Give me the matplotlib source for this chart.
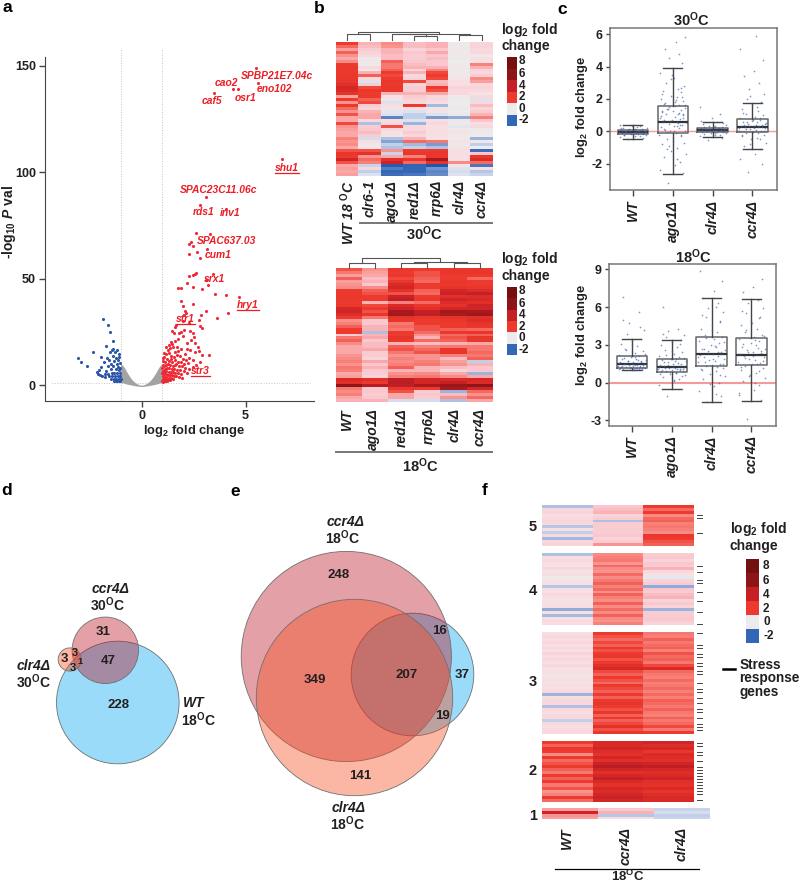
import matplotlib
matplotlib.use('Agg')
import matplotlib.pyplot as plt
import numpy as np
from matplotlib.colors import LinearSegmentedColormap, Normalize
from matplotlib.patches import Circle

W, H = 800, 886
plt.rcParams['font.family'] = ['Liberation Sans', 'DejaVu Sans']
plt.rcParams['font.weight'] = 'bold'
plt.rcParams['axes.unicode_minus'] = False
plt.rcParams['mathtext.fontset'] = 'custom'
plt.rcParams['mathtext.rm'] = 'Liberation Sans:bold'
plt.rcParams['mathtext.it'] = 'Liberation Sans:italic:bold'
plt.rcParams['mathtext.bf'] = 'Liberation Sans:bold'
plt.rcParams['mathtext.default'] = 'rm'

INK = '#231f20'
LOG2FC = r'log$_2$ fold change'
T18 = r'18$^{\mathrm{O}}$C'
T30 = r'30$^{\mathrm{O}}$C'

# panel a, volcano
grey_x = [-1.0, -0.9, -0.8, -0.7, -0.6, -0.5, -0.4, -0.3, -0.2, -0.1, 0.0, 0.1, 0.2, 0.3, 0.4, 0.5, 0.6, 0.7, 0.8, 0.9, 1.0]
grey_hi = [10.2, 9.4, 8.0, 6.2, 4.6, 3.2, 2.1, 1.3, 0.7, 0.3, 0.1, 0.3, 0.7, 1.3, 2.1, 3.2, 4.6, 6.2, 8.0, 9.4, 10.2]
grey_lo = [1.5, 1.2, 0.9, 0.6, 0.4, 0.2, 0.0, -0.2, -0.3, -0.4, -0.5, -0.4, -0.3, -0.2, 0.0, 0.2, 0.4, 0.6, 0.9, 1.2, 1.5]
blue_pts = [(-1.84, 31.3), (-1.59, 28.4), (-1.51, 25.0), (-1.36, 20.8), (-1.71, 18.6), (-2.32, 15.9), (-1.43, 16.4),
            (-1.36, 17.0), (-1.2, 16.7), (-1.52, 15.5), (-1.28, 15.5), (-1.08, 14.8), (-1.94, 13.3), (-1.65, 12.8),
            (-3.03, 12.8), (-2.93, 11.2), (-2.6, 8.9), (-2.16, 6.1), (-1.95, 8.7), (-1.8, 11.0), (-1.55, 11.8),
            (-1.38, 13.6), (-1.25, 13.0), (-1.12, 12.0), (-1.3, 11.3), (-1.45, 10.2), (-1.2, 10.0), (-1.05, 10.6),
            (-1.62, 9.2), (-1.35, 8.9), (-1.15, 8.8), (-1.03, 8.3), (-1.48, 7.6), (-1.25, 7.5), (-1.1, 7.2),
            (-1.7, 6.6), (-2.1, 5.4), (-2.0, 5.0), (-1.88, 4.6), (-1.78, 5.5), (-1.6, 5.3), (-1.42, 6.0),
            (-1.3, 5.8), (-1.18, 5.9), (-1.05, 5.6), (-1.55, 4.2), (-1.4, 4.5), (-1.28, 4.2), (-1.15, 4.4),
            (-1.02, 4.2), (-1.45, 3.2), (-1.33, 3.0), (-1.22, 3.1), (-1.1, 3.2), (-1.0, 3.0), (-1.3, 2.3),
            (-1.18, 2.2), (-1.07, 2.3), (-1.02, 1.9), (-1.25, 1.9), (-2.05, 7.4), (-1.74, 3.9), (-1.09, 13.5)]
red_pts = [(5.5, 149), (5.6, 142), (4.4, 139), (4.63, 139), (3.48, 137), (6.76, 106), (3.08, 88.4), (2.8, 84.4),
           (4.05, 82.8), (2.6, 71.7), (3.3, 70.8), (2.4, 67.3), (2.28, 66.3), (2.45, 65.5), (3.16, 63.8), (2.26, 61.6),
           (2.68, 62.5), (2.8, 59.7), (2.26, 51.4), (2.45, 51.6), (2.56, 52.2), (2.64, 52.8), (3.45, 52.3), (3.2, 46.9),
           (3.1, 49.5), (2.2, 47.8), (2.48, 46.0), (1.76, 45.5), (1.88, 45.5), (2.93, 45.3), (3.53, 42.8), (4.04, 42.2),
           (4.7, 41.3), (1.92, 39.4), (1.97, 37.3), (2.48, 38.4), (4.18, 33.9), (3.08, 35.0), (2.1, 35.0), (2.16, 33.9),
           (2.03, 33.1), (2.88, 32.8), (3.64, 31.4), (2.77, 30.5), (2.8, 28.0), (2.93, 26.9), (1.65, 28.5), (1.62, 27.2),
           (2.0, 30.0), (2.3, 29.5), (1.8, 24.8), (1.45, 25.5), (1.55, 24.8), (1.9, 25.2), (2.05, 25.8), (2.35, 25.6),
           (2.45, 24.5), (2.5, 22.8), (2.0, 23.4), (1.75, 22.0), (1.6, 21.0), (2.4, 21.5), (2.55, 20.0), (2.2, 20.0),
           (1.4, 20.2), (1.3, 18.9), (1.48, 19.3), (1.2, 18.0), (1.36, 17.5), (1.5, 17.8), (1.72, 18.2), (1.9, 17.3),
           (2.2, 17.0), (2.35, 16.7), (2.7, 17.8), (2.78, 16.2), (3.25, 14.4), (2.9, 14.2), (2.55, 15.6), (2.1, 14.8),
           (1.02, 12.8), (1.1, 13.4), (1.18, 14.6), (1.3, 15.2), (1.42, 14.0), (1.55, 13.3), (1.7, 14.4), (1.85, 13.6),
           (2.0, 12.5), (2.15, 11.8), (2.3, 13.0), (2.45, 12.0), (1.05, 11.6), (1.12, 11.0), (1.22, 12.3), (1.33, 11.6),
           (1.48, 11.0), (1.6, 12.0), (1.75, 10.8), (1.9, 10.8), (2.05, 10.2), (2.25, 10.5), (1.02, 9.8), (1.08, 9.2),
           (1.18, 9.8), (1.28, 10.2), (1.38, 9.4), (1.5, 9.0), (1.62, 9.6), (1.8, 8.9), (1.95, 9.2), (2.1, 8.4),
           (1.0, 8.4), (1.12, 7.9), (1.22, 8.4), (1.33, 8.0), (1.45, 7.6), (1.57, 7.8), (1.7, 7.4), (1.85, 7.2),
           (2.02, 6.8), (2.3, 7.5), (1.03, 7.0), (1.1, 6.6), (1.2, 6.9), (1.3, 6.4), (1.42, 6.1), (1.52, 6.5),
           (1.63, 5.8), (1.75, 5.6), (1.9, 5.5), (2.2, 5.8), (1.0, 5.6), (1.07, 5.2), (1.16, 5.5), (1.26, 5.0),
           (1.36, 4.8), (1.47, 4.9), (1.58, 4.3), (1.68, 4.4), (1.82, 4.0), (1.02, 4.2), (1.1, 3.9), (1.2, 4.0),
           (1.3, 3.6), (1.42, 3.4), (1.52, 3.2), (1.01, 3.1), (1.08, 2.8), (1.17, 2.9), (1.26, 2.5), (1.35, 2.4),
           (1.0, 2.2), (1.06, 2.0), (1.14, 2.1), (1.22, 1.9), (1.02, 1.6), (1.6, 15.8), (1.25, 16.4), (1.08, 15.2),
           (2.6, 9.6), (2.8, 11.0), (1.95, 3.6), (2.45, 8.6), (1.75, 16.0), (1.15, 6.0), (1.4, 12.6), (1.65, 10.2)]
gene_names = ['SPBP21E7.04c', 'cao2', 'eno102', 'osr1', 'caf5', 'shu1', 'SPAC23C11.06c', 'rds1', 'inv1',
              'SPAC637.03', 'cum1', 'srx1', 'hry1', 'str1', 'str3']
gene_x = [277.3, 226, 274.3, 245.3, 212, 287.3, 218.3, 203.3, 230, 226.7, 217.7, 215, 247.7, 185.3, 200.3]
gene_y = [76.3, 83.3, 89.3, 98, 100.7, 167.7, 190.3, 212, 213.3, 241.3, 255.3, 278.7, 304.7, 319.3, 370.7]
underlined = ['shu1', 'hry1', 'str1', 'str3']

# panel b, heatmaps
cols_30 = ['WT 18 $^{\\mathrm{O}}$C', 'clr6-1', 'ago1Δ', 'red1Δ', 'rrp6Δ', 'clr4Δ', 'ccr4Δ']
heat_30 = [
    [2.0, 0.9, 1.3, 0.8, 0.9, 0.1, 0.5], [1.6, 0.8, 1.2, 0.8, 0.9, 0.1, 0.5], [1.1, 0.6, 0.9, 0.5, 0.7, 0.1, 0.4],
    [1.7, 0.5, 0.9, 0.7, 1.0, 0.1, 0.4], [1.2, 0.4, 0.8, 0.6, 0.7, 0.1, 0.1], [1.0, 0.1, 0.8, 0.6, 0.8, 0.1, 0.3],
    [1.3, 0.1, 1.7, 0.7, 0.7, 0.0, 0.3], [2.0, 0.1, 1.5, 0.8, 0.7, 0.1, 1.4], [2.1, 0.4, 1.5, 0.9, 0.9, 0.1, 0.9],
    [2.1, 0.1, 1.7, 0.5, 1.4, 0.1, 0.5], [2.1, 0.9, 2.0, 0.9, 1.9, 0.1, 0.4], [2.2, 1.7, 1.9, 0.4, 2.0, 0.1, 0.6],
    [2.2, 0.4, 2.0, 0.5, 1.9, 0.2, 1.3], [2.3, -0.3, 2.2, 1.9, 0.8, 0.3, 1.1], [2.6, 0.6, 2.1, 0.5, 0.9, 0.3, 0.4],
    [3.2, 1.9, 2.2, 0.6, 2.0, 0.5, 0.5], [3.0, 2.2, 2.2, 0.6, 1.8, 0.4, 0.4], [2.4, 2.0, 0.9, 0.9, 1.0, 0.4, 0.2],
    [1.1, 2.1, 0.3, 0.6, 0.4, 0.1, 0.4], [2.0, 1.7, 0.2, 0.5, 0.4, 0.1, -0.3], [1.2, 1.9, -0.3, 0.4, 0.3, 0.0, 0.4],
    [2.1, 0.6, 0.3, 2.0, -0.9, 0.0, 0.8], [1.6, 0.5, 0.2, 0.3, 0.2, 0.1, 0.5], [1.2, 0.9, -0.2, -0.3, 0.2, 0.0, 0.6],
    [1.8, 1.0, -0.3, -0.6, -0.3, 0.1, 0.9], [1.0, 1.0, -1.6, -0.6, -1.3, -1.1, 1.4], [1.0, 0.4, 0.3, -0.3, 0.3, 0.1, 0.7],
    [1.9, -0.8, 0.4, -1.0, 0.4, 0.1, 0.3], [1.2, 0.6, 1.8, 0.4, 0.3, -0.2, 0.4], [1.1, 0.7, 0.4, 0.4, 0.3, 0.1, 0.1],
    [1.0, 0.8, 0.2, 0.6, 0.3, 0.2, 0.1], [1.0, 0.6, 0.2, 0.4, 0.3, 0.1, 0.0], [1.4, -0.4, -0.8, 0.9, 0.2, 0.1, -1.0],
    [1.2, 0.3, -1.2, 1.6, 1.5, 0.2, 0.1], [1.3, 0.1, -0.6, -0.9, -1.3, 0.1, -0.6],
    [1.0, 0.2, -0.8, -0.6, -0.8, 0.2, 0.0], [1.8, 1.8, 1.2, 2.0, 2.1, 0.3, -1.9], [2.3, 2.5, -0.5, 2.2, 2.3, 0.3, 0.7],
    [2.1, 1.2, 1.0, 1.4, 2.2, 0.3, 2.2], [3.5, 1.6, 2.6, 2.2, 5.0, 0.3, 2.8], [1.8, 1.4, 3.6, 1.6, 2.4, 1.3, 1.6],
    [1.0, -0.5, -2.1, -2.0, -2.2, 0.2, -1.8], [1.1, 0.4, -1.7, -2.0, -1.4, -0.3, 0.3], [1.0, -0.6, -2.0, -2.0, -1.6, -0.4, -0.7],
    [1.1, -0.3, -1.9, -1.8, -1.5, -0.3, -0.5],
]
cols_18 = ['WT', 'ago1Δ', 'red1Δ', 'rrp6Δ', 'clr4Δ', 'ccr4Δ']
heat_18 = [
    [1.8, 1.2, 2.2, 2.0, 2.3, 2.2], [1.5, 1.1, 2.0, 1.8, 2.3, 2.3], [1.1, 1.0, 2.2, 1.8, 2.0, 2.1],
    [1.7, 0.8, 1.9, 1.7, 2.0, 1.6], [1.1, 0.9, 2.3, 1.6, 2.2, 2.0], [1.2, 0.7, 3.0, 2.0, 2.1, 2.0],
    [1.3, 1.3, 3.4, 2.0, 2.4, 2.3], [2.0, 1.7, 2.5, 1.7, 3.4, 2.8], [2.1, 1.8, 1.8, 1.6, 3.8, 4.0],
    [2.2, 2.0, 3.8, 2.1, 2.6, 2.8], [2.1, 2.0, 4.2, 2.2, 3.5, 3.0], [2.1, 0.9, 1.4, 1.6, 2.8, 2.7],
    [2.1, 1.9, 2.9, 2.2, 2.5, 3.6], [3.2, 2.1, 3.6, 2.6, 3.3, 3.4], [3.5, 1.8, 5.0, 4.0, 5.2, 5.0],
    [2.8, 2.2, 5.2, 4.2, 5.0, 5.4], [2.0, 1.5, 2.4, 2.2, 2.5, 2.6], [1.2, 0.7, 2.3, 2.0, 2.2, 2.8],
    [1.4, 0.7, 1.5, 2.0, 2.0, 2.4], [1.7, 0.9, 1.6, 1.8, 2.0, 2.2], [2.0, 0.9, 1.5, 1.8, 1.7, 1.6],
    [2.0, -0.8, 2.0, 1.6, 2.2, 2.3], [0.6, 0.9, 2.0, 1.2, 1.6, 1.7], [1.5, 1.0, 2.4, 0.9, 1.8, 2.3],
    [1.7, 0.7, 2.2, 1.6, 1.7, 2.2], [1.3, 0.8, 0.9, 0.8, 0.9, 1.0], [1.0, 0.8, 1.7, 1.4, 1.5, 1.5],
    [1.0, 1.0, 1.8, 1.6, 2.2, 1.5], [1.0, 0.6, 1.5, 1.8, 2.2, 1.6], [1.2, 0.6, 1.2, 1.2, 1.4, 1.5],
    [1.3, 0.5, 1.4, 1.2, 0.8, 1.7], [1.4, 1.0, 1.3, 1.4, 1.1, -0.6], [1.2, 0.7, 1.4, 1.5, 1.2, 0.9],
    [1.5, 0.9, 1.7, 0.9, 0.8, 0.7], [1.4, 0.7, 0.9, 0.9, 0.5, 0.7], [1.0, 0.6, 1.2, 1.3, 1.0, -1.0],
    [1.1, 0.5, 1.4, 1.5, 1.3, 1.0], [3.0, 2.6, 4.2, 3.2, 3.0, 3.2], [2.6, 2.1, 4.4, 3.4, 4.0, 2.9],
    [6.0, 4.5, 4.2, 5.0, 5.5, 6.0], [1.5, 0.7, 2.2, 2.0, 5.0, 3.5], [1.3, 0.7, 1.8, 0.6, -1.0, 1.6],
    [1.4, 0.6, 1.0, 0.7, 0.8, 1.2], [1.0, 0.7, 1.0, 0.6, 1.2, 1.6], [0.9, 0.9, -0.4, -0.4, -0.8, 1.0],
]
# dendrograms: (left column pos, left height, right column pos, right height, join height)
tree_30 = [(0.5, 0, 1.5, 0, 5.7), (3.5, 0, 4.5, 0, 4.3), (2.5, 0, 4.0, 4.3, 5.7), (5.5, 0, 6.5, 0, 4.7),
           (3.25, 5.7, 6.0, 4.7, 6.3), (1.0, 5.7, 4.6, 6.3, 8.3)]
tree_18 = [(0.5, 0, 1.5, 0, 5.0), (2.5, 0, 3.5, 0, 4.3), (4.5, 0, 5.5, 0, 4.3), (3.0, 4.3, 5.0, 4.3, 6.0),
           (1.0, 5.0, 4.0, 6.0, 10.0)]
legend_vals = [8, 6, 4, 2, 0, -2]

# panel c, box plots
box_names = ['WT', 'ago1Δ', 'clr4Δ', 'ccr4Δ']
whislo_30 = [-0.47, -2.65, -0.37, -1.07]
q1_30 = [-0.18, -0.12, -0.04, -0.06]
med_30 = [-0.05, 0.58, 0.08, 0.29]
q3_30 = [0.08, 1.56, 0.22, 0.74]
whishi_30 = [0.39, 3.93, 0.58, 1.77]
whislo_18 = [0.98, -0.5, -1.56, -1.46]
q1_18 = [1.14, 0.82, 1.32, 1.38]
med_18 = [1.48, 1.25, 2.28, 2.23]
q3_18 = [2.09, 1.9, 3.6, 3.52]
whishi_18 = [3.5, 3.36, 6.75, 6.65]
jitter = [-0.12, 0.25, -0.31, 0.06, 0.18, -0.22, 0.33, -0.04, 0.12, -0.27, 0.28, -0.15, 0.02, 0.21, -0.34, 0.09,
          -0.07, 0.31, -0.19, 0.15, -0.29, 0.04, 0.24, -0.1, 0.35, -0.24, 0.11, -0.02, 0.19, -0.32, 0.07, 0.27,
          -0.17, 0.14, -0.26, 0.0, 0.22, -0.13, 0.3, -0.08, 0.17, -0.21, 0.05, 0.26, -0.3, 0.1, -0.05, 0.2,
          -0.25, 0.13, 0.29, -0.16, 0.03, -0.33, 0.23, -0.09, 0.16, -0.2, 0.08, 0.32,
          -0.14, 0.01, 0.2, -0.23, 0.12, -0.06, 0.26, -0.3, 0.16, -0.11, 0.05, 0.3, -0.18, 0.09, -0.28, 0.22,
          -0.03, 0.14, -0.21, 0.27, -0.09, 0.03, 0.18, -0.26, 0.1, -0.15, 0.24, -0.01, -0.32, 0.07, 0.19, -0.12]
pts_30_wt = [-0.5, -0.42, -0.35, -0.3, -0.26, -0.22, -0.2, -0.17, -0.15, -0.12, -0.1, -0.08, -0.06, -0.05, -0.03,
             -0.02, 0.0, 0.02, 0.04, 0.05, 0.07, 0.1, 0.12, 0.15, 0.18, 0.22, 0.26, 0.3, 0.35, 0.38,
             -0.13, -0.07, -0.04, 0.01, 0.03, -0.16, -0.09, 0.06, -0.01, -0.11, 0.09, -0.24, 0.14, -0.19, 0.2]
pts_30_ago = [-3.2, -2.6, -2.4, -2.1, -1.9, -1.6, -1.4, -1.2, -1.0, -0.8, -0.7, -0.5, -0.4, -0.3, -0.2, -0.1, 0.0, 0.05,
              0.1, 0.2, 0.25, 0.3, 0.4, 0.45, 0.5, 0.55, 0.6, 0.7, 0.75, 0.8, 0.9, 1.0, 1.05, 1.1, 1.2, 1.25, 1.3, 1.4,
              1.45, 1.5, 1.6, 1.7, 1.8, 1.9, 2.0, 2.1, 2.2, 2.4, 2.5, 2.6, 2.8, 3.0, 3.3, 3.6, 4.2, 4.5, 4.8, 5.1, 5.5, 5.8,
              -1.1, -0.6, -0.25, 0.15, 0.35, 0.65, 0.85, 0.95, 1.15, 1.35, 1.55, 1.65, 1.75, 1.95, 2.3, 2.7, 3.2, 0.52, 0.72,
              1.08, -0.9, 0.02, 0.42, 1.28, -1.7, -0.05, 2.15, 3.45]
pts_30_clr = [-0.55, -0.4, -0.3, -0.25, -0.2, -0.15, -0.1, -0.08, -0.05, -0.02, 0.0, 0.02, 0.04, 0.06, 0.08, 0.1,
              0.12, 0.14, 0.16, 0.18, 0.2, 0.24, 0.28, 0.32, 0.38, 0.45, 0.55, 0.8, 1.1, 1.5,
              -0.12, -0.03, 0.03, 0.05, 0.07, 0.09, 0.11, 0.13, 0.15, 0.17, 0.22, 0.26, 0.35, 0.5, 0.65]
pts_30_ccr = [-2.5, -2.0, -1.7, -1.4, -1.1, -0.9, -0.7, -0.5, -0.4, -0.3, -0.2, -0.12, -0.05, 0.0, 0.05, 0.1, 0.15, 0.2,
              0.24, 0.28, 0.32, 0.36, 0.4, 0.45, 0.5, 0.55, 0.6, 0.65, 0.7, 0.8, 0.9, 1.0, 1.1, 1.25, 1.4, 1.6, 1.8, 2.0,
              2.3, 2.6, 3.0, 3.4, 3.7, 4.4, 5.1, 5.9,
              -0.8, -0.45, -0.25, -0.08, 0.02, 0.12, 0.18, 0.22, 0.26, 0.3, 0.34, 0.38, 0.42, 0.48, 0.58, 0.72, 0.85, 1.15, 1.5, 2.2]
pts_18_wt = [1.0, 1.02, 1.05, 1.07, 1.1, 1.12, 1.15, 1.18, 1.2, 1.22, 1.25, 1.28, 1.3, 1.33, 1.36, 1.4, 1.43, 1.46, 1.5,
             1.55, 1.6, 1.65, 1.7, 1.75, 1.8, 1.85, 1.9, 2.0, 2.1, 2.2, 2.35, 2.5, 2.7, 2.9, 3.1, 3.3, 3.5, 3.9, 4.2,
             4.7, 5.6, 6.8,
             1.03, 1.08, 1.13, 1.17, 1.23, 1.27, 1.32, 1.38, 1.42, 1.48, 1.52, 1.58, 1.62, 1.72, 1.82, 1.95, 2.05, 2.3, 2.6, 3.0, 4.4, 5.0]
pts_18_ago = [-1.1, -0.5, -0.2, 0.1, 0.3, 0.45, 0.6, 0.7, 0.8, 0.85, 0.9, 0.95, 1.0, 1.05, 1.1, 1.15, 1.2, 1.25, 1.3, 1.35,
              1.4, 1.45, 1.5, 1.6, 1.7, 1.8, 1.85, 1.9, 2.0, 2.1, 2.25, 2.4, 2.6, 2.8, 3.0, 3.2, 3.4, 3.6, 3.8, 4.1, 4.3, 6.0,
              0.2, 0.5, 0.65, 0.75, 0.88, 0.98, 1.02, 1.08, 1.12, 1.18, 1.22, 1.28, 1.33, 1.38, 1.55, 1.65, 1.75, 1.95, 2.2, 2.5, 3.1, 3.9]
pts_18_clr = [-1.5, -1.1, -0.7, -0.3, 0.0, 0.3, 0.5, 0.7, 0.9, 1.05, 1.2, 1.3, 1.4, 1.5, 1.6, 1.7, 1.8, 1.9, 2.0, 2.1, 2.2,
              2.3, 2.4, 2.5, 2.6, 2.7, 2.85, 3.0, 3.15, 3.3, 3.45, 3.6, 3.8, 4.0, 4.3, 4.6, 4.9, 5.2, 5.6, 5.9, 6.3, 6.7,
              7.3, 8.1, 8.9,
              -0.9, -0.1, 0.6, 1.0, 1.25, 1.45, 1.65, 1.85, 2.05, 2.25, 2.35, 2.45, 2.65, 2.95, 3.25, 3.55, 4.2, 4.8, 5.4, 6.0]
pts_18_ccr = [-2.9, -1.4, -1.0, -0.6, -0.2, 0.1, 0.4, 0.6, 0.8, 1.0, 1.2, 1.35, 1.45, 1.55, 1.65, 1.8, 1.9, 2.0, 2.1, 2.2, 2.3,
              2.4, 2.5, 2.6, 2.7, 2.8, 3.0, 3.15, 3.3, 3.45, 3.6, 3.8, 4.0, 4.3, 4.6, 4.9, 5.2, 5.5, 5.9, 6.3, 6.6, 7.2,
              7.6, 8.2,
              -0.8, 0.0, 0.5, 0.9, 1.25, 1.5, 1.7, 1.95, 2.15, 2.25, 2.35, 2.45, 2.75, 3.1, 3.4, 3.7, 4.15, 4.7, 5.1, 5.7]

# panels d and e, venn counts
d_only_ccr, d_ccr_wt, d_wt_only = 31, 47, 228
d_clr_only, d_clr_ccr, d_clr_wt, d_all = 3, 3, 3, 1
e_ccr_only, e_ccr_clr, e_all, e_ccr_wt = 248, 349, 207, 16
e_clr_only, e_clr_wt, e_wt_only = 141, 19, 37

# panel f, clustered heatmap; cluster rows plus which rows are stress genes
f_cols = ['WT', 'ccr4Δ', 'clr4Δ']
f5 = [[-0.8, 0.7, 2.0], [0.4, 0.8, 1.6], [0.5, 0.9, 2.0], [0.3, 0.5, 1.3], [0.4, 0.6, 1.6], [0.5, -0.8, 1.7], [0.4, 0.6, 1.4],
      [-0.7, 0.6, 1.5], [0.3, 0.6, 1.4], [-0.6, 0.6, 1.3], [0.4, 0.7, 2.2], [-0.9, 0.5, 2.0], [0.4, 0.6, 1.8], [0.5, 1.2, 1.7]]
f4 = [[-0.8, 1.3, 0.6], [0.3, 1.4, 0.7], [0.4, 1.5, 0.5], [0.3, 1.2, 0.7], [0.2, 1.6, 0.6], [0.4, 1.3, 0.9], [0.2, 1.2, 0.4],
      [0.3, 1.6, 0.2], [0.1, 1.3, -0.1], [0.2, 1.5, 0.5], [0.3, 1.7, 0.6], [-0.7, 1.4, -1.1], [0.3, 1.6, 0.7], [0.2, 1.2, 0.6],
      [0.4, 1.7, 0.8], [0.3, 1.4, 0.9], [0.2, 1.3, 0.5], [0.3, 1.7, 0.7], [0.3, 1.3, 0.5], [-1.1, 1.6, -1.0], [0.3, 1.3, 0.6],
      [-0.9, 1.7, 0.6], [0.3, 1.3, 0.7], [0.4, 1.2, 0.6], [0.3, 1.4, 0.5]]
f3 = [[0.3, 2.0, 1.5], [0.4, 1.8, 1.4], [0.3, 1.6, 1.7], [0.4, 1.9, 1.5], [0.3, 1.7, 1.6], [0.4, 2.1, 1.7], [0.3, 1.8, 1.4],
      [0.5, 2.0, 1.8], [0.3, 2.3, 1.6], [0.4, 1.8, 1.7], [0.3, 2.0, 1.5], [0.4, 2.6, 1.9], [0.2, 3.2, 3.0], [0.3, 1.9, 1.6],
      [0.2, 1.7, 1.5], [0.2, 2.0, 1.4], [0.3, 1.8, 1.6], [0.2, 1.6, 1.4], [0.3, 2.1, 1.5], [0.3, 1.9, 1.6], [0.4, 1.7, 1.4],
      [-1.0, 2.0, 1.6], [0.3, 1.7, 1.4], [0.4, 2.1, 1.7], [0.4, 2.3, 1.6], [-0.8, 2.0, 1.5], [0.4, 1.8, 1.7], [0.3, 2.2, 1.5],
      [0.4, 1.7, 1.4], [0.4, 2.0, 1.7], [-0.6, 1.7, 1.5], [0.4, 1.9, 1.6], [0.3, 2.5, 1.9], [0.4, 1.8, 1.5], [0.4, 2.2, 2.0]]
f2 = [[2.0, 3.0, 3.4], [1.7, 3.0, 2.8], [2.2, 3.4, 3.2], [2.0, 2.8, 2.2], [1.3, 2.5, 3.0], [2.1, 3.3, 2.8], [1.6, 2.6, 2.6],
      [1.8, 3.8, 3.5], [2.1, 4.4, 4.2], [1.7, 3.4, 3.2], [1.5, 2.6, 2.8], [2.0, 3.2, 3.0], [1.7, 4.0, 3.6], [2.0, 3.0, 2.6],
      [1.5, 2.5, 2.5], [1.8, 3.2, 3.0], [1.2, 2.8, 2.4], [1.4, 3.4, 2.8], [2.1, 3.9, 3.1], [1.6, 3.3, 3.0]]
f1 = [[1.1, 0.7, -0.5], [3.6, 0.9, -0.4], [1.2, -0.7, -0.6], [1.1, 0.3, -0.5]]
f_clusters = [f5, f4, f3, f2, f1]
f_labels = ['5', '4', '3', '2', '1']
stress_5 = [3, 4, 9]
stress_4 = [4, 6, 9, 10, 13, 16, 20, 24]
stress_3 = [0, 4, 5, 7, 8, 10, 11, 13, 14, 17, 19, 20, 22, 24, 26, 27, 29, 31, 32, 33]
stress_2 = [0, 1, 3, 4, 6, 8, 9, 10, 11, 12, 13, 14, 15, 16, 17, 19]
stress_1 = []
f_stress = [stress_5, stress_4, stress_3, stress_2, stress_1]

cmap = LinearSegmentedColormap.from_list('fc', [
    (0.0, '#1f56ae'), (1.2 / 10.2, '#9ab4de'), (1.9 / 10.2, '#dfe3ef'), (2.2 / 10.2, '#ececec'), (2.5 / 10.2, '#f8dde2'),
    (2.9 / 10.2, '#f9c6cc'), (3.2 / 10.2, '#f9a7a7'), (3.7 / 10.2, '#f6766e'), (4.2 / 10.2, '#ee3a2e'), (5.2 / 10.2, '#d92a26'),
    (6.2 / 10.2, '#c62027'), (7.2 / 10.2, '#a81a1e'), (8.2 / 10.2, '#8e1515'), (1.0, '#741010')])
norm = Normalize(-2.2, 8)

fig = plt.figure(figsize=(W / 100, H / 100), dpi=100)


def add_ax(x0, y0, x1, y1):
    return fig.add_axes([x0 / W, 1 - y1 / H, (x1 - x0) / W, (y1 - y0) / H])


# overlay in pixels for the loose labels
ov = fig.add_axes([0, 0, 1, 1], zorder=10)
ov.set_xlim(0, W)
ov.set_ylim(H, 0)
ov.axis('off')


def label(x, y, s, size=9, style='normal', color=INK, rotation=0, ha='center', va='center'):
    return ov.text(x, y, s, fontsize=size, fontstyle=style, color=color, rotation=rotation, ha=ha, va=va)


for s, x, y in [('a', 7, 7), ('b', 319, 8), ('c', 562, 9), ('d', 7, 490), ('e', 235, 491), ('f', 485, 490)]:
    label(x, y, s, size=12.5, color='black')

# a
ax = add_ax(45, 57, 314, 401)
ax.set_xlim(-4.64, 8.29)
ax.set_ylim(-7.3, 154)
ax.fill_between(grey_x, grey_lo, grey_hi, color='#a3a3a3', lw=0, zorder=2)
blue_arr = np.array(blue_pts)
red_arr = np.array(red_pts)
ax.scatter(blue_arr[:, 0], blue_arr[:, 1], s=5, color='#2b55a8', lw=0, zorder=3)
ax.scatter(red_arr[:, 0], red_arr[:, 1], s=5, color='#ee2a35', lw=0, zorder=3)
for xv in [-1, 1]:
    ax.plot([xv, xv], [-7.3, 158], color='#c4c4c4', lw=0.7, ls=':', clip_on=False, zorder=1)
ax.plot([-4.3, 8.1], [1.3, 1.3], color='#c4c4c4', lw=0.7, ls=':', zorder=1)
for side in ['top', 'right']:
    ax.spines[side].set_visible(False)
for side in ['left', 'bottom']:
    ax.spines[side].set_color('#444444')
ax.set_xticks([0, 5])
ax.set_yticks([0, 50, 100, 150])
ax.tick_params(labelsize=9, length=4, width=1, color='#444444', labelcolor=INK, pad=2.5)
label(193.7, 431, LOG2FC, size=9.3)
label(9, 222, r'-log$_{10}$ $\mathit{P}$ val', size=10, rotation=90)
fig.canvas.draw()
rend = fig.canvas.get_renderer()
inv = ov.transData.inverted()
for name, x, y in zip(gene_names, gene_x, gene_y):
    t = label(x, y, name, size=7.4, style='italic', color='#ed1c24')
    if name in underlined:
        bb = t.get_window_extent(rend)
        (x0, _), (x1, _) = inv.transform([(bb.x0, bb.y0), (bb.x1, bb.y1)])
        ov.plot([x0, x1], [y + 5, y + 5], color='#ed1c24', lw=0.9)


# b
def heat(rows, x0, y0, x1, y1):
    a = add_ax(x0, y0, x1, y1)
    a.pcolormesh(np.array(rows), cmap=cmap, norm=norm, antialiased=False)
    a.set_ylim(len(rows), 0)
    a.axis('off')
    return a


def dendro(tree, ncol, x0, x1, y1):
    a = add_ax(x0, y1 - 10, x1, y1)
    a.set_xlim(0, ncol)
    a.set_ylim(0, 10)
    a.axis('off')
    for xl, hl, xr, hr, top in tree:
        a.plot([xl, xl, xr, xr], [hl, top, top, hr], color='#555555', lw=0.8, clip_on=False)


def legend(x0, y0, x1, y1, lab_x, lab_ys, title_x, title_ys):
    a = add_ax(x0, y0, x1, y1)
    a.pcolormesh(np.array(legend_vals).reshape(-1, 1), cmap=cmap, norm=norm)
    a.set_ylim(len(legend_vals), 0)
    a.axis('off')
    for v, ly in zip(legend_vals, lab_ys):
        label(lab_x, ly, str(v), size=8.5, ha='left')
    label(title_x, title_ys[0], r'log$_2$ fold', size=10, ha='left')
    label(title_x, title_ys[1], 'change', size=10, ha='left')


heat(heat_30, 336, 41.7, 492.7, 175.7)
heat(heat_18, 336, 268, 492.7, 402)
dendro(tree_30, 7, 336, 492.7, 40)
dendro(tree_18, 6, 336, 492.7, 267.7)
legend(506.7, 57, 517, 126, 518.5, [61, 74, 85.7, 97, 108.7, 120], 501, [30, 46])
legend(506.7, 287, 517, 355, 518.5, [291, 303.7, 315, 327, 338, 350], 501, [259, 276])
for name, x in zip(cols_30, [347.7, 370, 392.3, 414.7, 437, 459.5, 482]):
    label(x, 180, name, size=10, style='italic', rotation=90, va='top')
for name, x in zip(cols_18, [347, 373, 401.7, 429, 455, 480]):
    label(x, 408, name, size=10, style='italic', rotation=90, va='top')
ov.plot([360, 491.7], [222.7, 222.7], color='#777777', lw=1.4)
ov.plot([336, 492], [452, 452], color='#777777', lw=1.4)
label(424, 234, T30, size=10.5)
label(420, 466, T18, size=10.5)


# c
def box_panel(x0, y0, x1, y1, ylim, yticks, tops, lows, meds, q1s, q3s, groups, line_w):
    a = add_ax(x0, y0, x1, y1)
    stats = [dict(whislo=lo, q1=q1, med=m, q3=q3, whishi=hi, fliers=[])
             for lo, q1, m, q3, hi in zip(lows, q1s, meds, q3s, tops)]
    pos = [1, 2, 3, 4]
    a.axhline(0, color='#f59a9a', lw=line_w, zorder=1)
    a.bxp(stats, positions=pos, widths=0.76, capwidths=0.48, showfliers=False, manage_ticks=False, zorder=2,
          boxprops=dict(color='#666666', lw=1.1), medianprops=dict(color='#333333', lw=1.6),
          whiskerprops=dict(color='#444444', lw=1), capprops=dict(color='#444444', lw=1))
    for p, vals in zip(pos, groups):
        a.scatter(p + np.array(jitter[:len(vals)]), vals, s=1.5, color='#3a5fae', alpha=0.65, lw=0, zorder=3)
    a.set_xlim(0.42, 4.61)
    a.set_ylim(*ylim)
    a.set_yticks(yticks)
    a.set_xticks(pos)
    a.set_xticklabels(box_names, rotation=90, fontstyle='italic', fontsize=10)
    a.tick_params(axis='y', labelsize=9, length=3, width=1, color='#444444', labelcolor=INK, pad=2)
    a.tick_params(axis='x', length=4, width=1, color='#444444', labelcolor=INK, pad=3)
    for sp in a.spines.values():
        sp.set_color('#777777')
        sp.set_linewidth(1.1)
    return a


box_panel(609.7, 28.3, 776.7, 190, (-3.62, 6.36), [-2, 0, 2, 4, 6], whishi_30, whislo_30, med_30, q1_30, q3_30,
          [pts_30_wt, pts_30_ago, pts_30_clr, pts_30_ccr], 1.0)
box_panel(608.7, 264.3, 775.7, 425.7, (-3.42, 9.4), [-3, 0, 3, 6, 9], whishi_18, whislo_18, med_18, q1_18, q3_18,
          [pts_18_wt, pts_18_ago, pts_18_clr, pts_18_ccr], 1.5)
label(691, 20, T30, size=10.5)
label(693, 257, T18, size=10.5)
label(582, 107, LOG2FC, size=9.3, rotation=90)
label(582, 335, LOG2FC, size=9.3, rotation=90)


# d, e venn: circle area follows the set total
def venn(cx, cy, total, color, k):
    r = k * np.sqrt(total)
    ov.add_patch(Circle((cx, cy), r, facecolor=color, alpha=0.4, edgecolor='none'))
    ov.add_patch(Circle((cx, cy), r, facecolor='none', edgecolor='#707070', lw=0.6))


WT_C, CCR_C, CLR_C = '#00a5f2', '#b91225', '#f54b1c'
venn(117.8, 702.5, d_wt_only + d_ccr_wt + d_clr_wt + d_all, WT_C, 3.67)
venn(105.3, 650.3, d_only_ccr + d_ccr_wt + d_clr_ccr + d_all, CCR_C, 3.67)
venn(69.8, 659.5, d_clr_only + d_clr_ccr + d_clr_wt + d_all, CLR_C, 3.67)
venn(412.5, 674.5, e_wt_only + e_ccr_wt + e_clr_wt + e_all, WT_C, 3.67)
venn(346.3, 656.5, e_ccr_only + e_ccr_clr + e_all + e_ccr_wt, CCR_C, 3.67)
venn(354.5, 697.5, e_clr_only + e_ccr_clr + e_all + e_clr_wt, CLR_C, 3.67)

for v, x, y in [(d_only_ccr, 103, 632), (d_ccr_wt, 108, 661), (d_wt_only, 118, 705.5), (d_clr_only, 64.5, 659.5),
                (e_ccr_only, 339, 575), (e_ccr_clr, 315, 680), (e_all, 407, 674.5), (e_ccr_wt, 439.5, 631.5),
                (e_wt_only, 462, 674.5), (e_clr_wt, 442.5, 716), (e_clr_only, 360.5, 776)]:
    label(x, y, str(v), size=9.5)
label(75, 653, str(d_clr_ccr), size=8)
label(72.5, 668, str(d_clr_wt), size=8)
label(79.5, 661, str(d_all), size=6.5)

label(111, 589, 'ccr4Δ', size=10, style='italic')
label(108, 605, T30, size=10)
label(34, 666, 'clr4Δ', size=10, style='italic')
label(34, 682, T30, size=10)
label(194, 703, 'WT', size=10, style='italic')
label(199, 719.5, T18, size=10)
label(346, 522, 'ccr4Δ', size=10, style='italic')
label(343, 538, T18, size=10)
label(349, 808, 'clr4Δ', size=10, style='italic')
label(348, 824, T18, size=10)

# f
f_spans = [(505, 545.7), (553, 625.3), (632, 734), (741, 801.7), (808.3, 819.3)]
f_num_y = [526.7, 591, 682.3, 771, 815.7]
for rows, (y0, y1), stress, lab, ny in zip(f_clusters, f_spans, f_stress, f_labels, f_num_y):
    a = heat(rows, 542.3, y0, 710, y1)
    for r in stress:
        a.plot([3.06, 3.16], [r + 0.5, r + 0.5], color='#444444', lw=0.7, clip_on=False)
    label(533, ny, lab, size=10.5)
for name, x in zip(f_cols, [567.3, 626, 681.7]):
    label(x, 827, name, size=10, style='italic', rotation=90, va='top')
ov.plot([555, 699.3], [869, 869], color='black', lw=0.9)
label(627.7, 876.5, T18, size=9.5)
legend(746, 559.3, 759.3, 642.7, 763, [565.6, 581, 595, 608.7, 622, 636], 730, [529.5, 546])
ov.plot([722.7, 735], [669.3, 669.3], color='black', lw=1.8)
for s, y in [('Stress', 665), ('response', 678), ('genes', 692)]:
    label(739.3, y, s, size=9.8, ha='left')

fig.savefig('out.png', dpi=100)
